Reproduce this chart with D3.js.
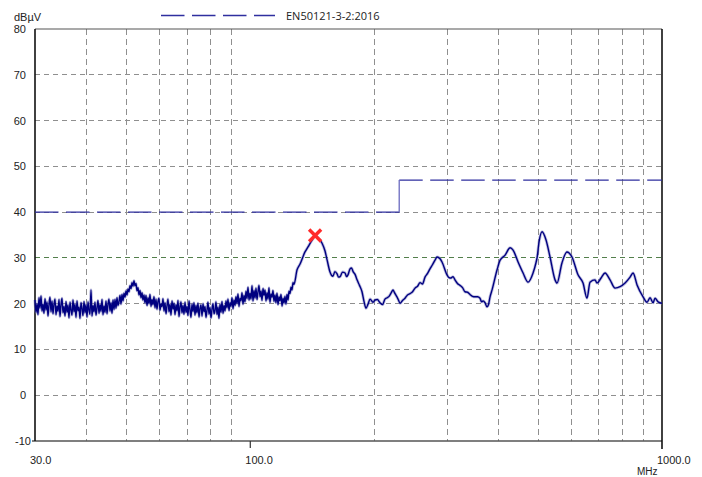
<!DOCTYPE html>
<html>
<head>
<meta charset="utf-8">
<script src="https://cdn.jsdelivr.net/npm/d3@7"></script>
<style>
  html, body { margin: 0; padding: 0; background: #ffffff; }
  svg { display: block; }
</style>
</head>
<body>
<svg id="chart" width="702" height="477"></svg>
<script>
// ---------------- data ----------------
const freqDomain = [30, 1000];            // MHz
const levelDomain = [-10, 80];            // dBµV
const yTicks = [-10, 0, 10, 20, 30, 40, 50, 60, 70, 80];
const xTickLabels = [{ f: 30, t: "30.0" }, { f: 100, t: "100.0" }, { f: 1000, t: "1000.0" }];
const xGridFreqs = [40, 50, 60, 70, 80, 90, 200, 300, 400, 500, 600, 700, 800, 900];
const yUnit = "dBµV";
const xUnit = "MHz";
const limitName = "EN50121-3-2:2016";
// limit: 40 dBµV from 30 to 230 MHz, 47 dBµV from 230 to 1000 MHz
const limitSegments = [[[30, 40], [230, 40]], [[230, 47], [1000, 47]]];
const limitStepFreq = 230;

// Low band sweep (noisy part): log-spaced sweep points 30 .. 127.7 MHz
const lowSweepStart = 30, lowSweepStop = 127.7;
const lowSweepLevels = [
  20.8,18.1,20.0,17.6,21.3,19.0,21.7,18.4,19.9,17.9,
  21.1,18.6,20.4,17.3,19.8,21.4,18.2,20.6,17.8,19.9,
  21.0,17.6,19.5,18.3,20.9,17.2,19.8,21.2,18.0,19.4,
  17.3,20.5,18.1,19.7,16.9,20.3,18.6,17.5,20.8,18.2,
  19.9,17.0,20.6,18.4,19.3,16.8,20.2,18.9,17.4,20.5,
  18.0,19.8,17.1,20.4,18.6,17.7,23.0,17.3,19.6,18.2,
  20.3,17.5,19.1,20.7,17.9,19.8,18.3,20.9,17.6,19.5,
  18.1,20.6,17.8,19.9,21.0,18.4,20.2,17.9,20.8,18.7,
  20.9,19.0,21.3,19.6,20.4,21.8,19.9,22.0,20.6,22.3,
  21.4,22.8,21.9,23.2,22.6,23.9,23.3,24.6,23.8,25.0,
  23.9,24.4,22.8,23.5,21.9,22.9,21.3,22.4,20.8,21.9,
  20.2,21.8,19.6,21.3,20.0,22.0,19.4,20.9,19.8,21.5,
  19.1,21.0,18.8,20.5,21.2,18.6,20.0,19.3,21.1,18.4,
  20.2,17.8,19.6,21.0,18.2,19.9,17.5,20.6,18.8,20.1,
  17.6,19.8,18.4,20.7,17.2,19.3,20.4,18.0,19.6,17.7,
  20.3,18.1,19.4,17.4,20.6,18.7,17.0,19.9,18.3,20.2,
  17.5,19.6,18.0,20.1,17.1,18.9,19.7,17.3,20.0,18.2,
  19.4,17.0,18.6,20.3,17.7,19.2,16.9,18.8,20.0,17.8,
  18.5,20.4,17.6,19.3,16.8,19.9,18.1,20.5,17.9,19.6,
  18.4,20.6,19.1,21.0,18.5,20.2,19.4,21.3,18.9,20.8,
  19.6,21.5,20.0,22.1,19.4,21.2,20.6,22.4,19.9,21.8,
  20.4,22.7,21.1,23.6,20.8,22.3,21.0,23.9,20.6,22.9,
  21.2,23.4,20.9,22.6,24.0,21.5,22.8,20.7,23.3,21.8,
  23.0,20.6,22.4,21.0,23.5,20.3,22.1,21.4,22.9,20.5,
  21.9,20.2,22.3,19.8,21.5,20.6,22.0,19.5,21.2,20.1,
  21.6,19.9,22.0,20.8,22.7,22.2,23.6,23.0,24.6,24.2
];

// Upper band readings
const highFreqs = [
  129.9,132.0,135.8,138.1,141.3,143.7,146.1,149.4,151.9,153.7,
  156.2,157.5,158.8,160.5,162.5,163.8,165.2,167.5,169.9,171.3,
  172.7,174.7,176.2,177.7,179.7,181.7,184.2,186.8,188.9,191.0,
  193.2,195.4,198.7,200.9,203.5,206.6,209.5,212.4,215.0,217.3,
  219.7,222.2,224.0,226.0,228.5,231.1,234.3,237.6,241.0,244.4,
  247.8,251.3,254.8,258.4,262.0,265.7,269.5,273.2,277.0,281.0,
  284.2,289.0,292.2,300.5,303.9,307.3,310.7,314.2,318.6,323.1,
  327.7,332.3,336.9,341.7,346.5,351.5,356.4,361.4,364.5,367.6,
  371.7,375.9,379.0,382.3,386.6,397.6,404.4,415.8,427.6,434.8,
  447.1,459.8,472.8,486.2,494.4,497.2,502.8,511.3,522.8,534.6,
  549.8,555.9,571.5,587.7,604.4,625.2,643.0,657.5,668.6,687.6,
  695.3,711.2,727.1,747.8,769.0,790.9,813.4,836.5,850.6,869.8,
  899.5,919.6,935.3,951.2,961.9,978.4,1000
];
const highLevels = [
  27.4,28.6,31.3,32.4,33.9,34.8,34.4,33.2,31.5,29.5,
  26.9,26.2,26.0,27.0,26.5,25.8,25.9,26.9,26.7,25.9,
  26.3,27.6,27.8,27.0,26.4,25.2,24.0,22.6,20.5,19.0,
  19.9,21.0,20.3,20.8,20.9,20.2,19.8,21.0,21.3,21.6,
  22.3,23.0,22.4,21.8,21.0,20.1,20.7,21.2,21.9,22.2,
  22.6,23.4,23.8,24.6,24.3,25.8,26.6,27.6,28.5,29.5,
  30.2,29.8,29.1,26.3,25.7,25.6,25.9,25.2,24.4,24.0,
  23.5,22.6,22.5,22.0,21.6,21.5,21.5,21.2,20.4,20.6,
  20.2,19.3,19.8,21.5,23.0,27.4,29.5,30.6,32.2,31.7,
  29.1,26.7,24.7,26.7,29.0,30.0,33.5,35.7,33.9,30.2,
  25.2,24.5,28.9,31.3,30.2,26.3,24.5,21.2,24.7,25.2,
  24.5,25.6,26.7,25.2,23.4,23.7,24.5,25.8,26.7,24.1,
  21.5,20.3,21.3,20.2,21.2,20.4,20.1
];

// Peak marker
const markerFreq = 143.7, markerLevel = 34.9;

// ---------------- drawing ----------------
const L = 35, R = 662, T = 29, B = 441;
const svg = d3.select("#chart");

const x = d3.scaleLog().domain(freqDomain).range([L, R]);
const y = d3.scaleLinear().domain(levelDomain).range([B, T]);

const axisFont = "'Liberation Sans', Arial, sans-serif";
const gridColor = "#8f8f8f";

// horizontal grid
svg.append("g").selectAll("line")
  .data(yTicks.filter(v => v > levelDomain[0] && v < levelDomain[1]))
  .join("line")
  .attr("x1", L).attr("x2", R)
  .attr("y1", d => y(d)).attr("y2", d => y(d))
  .attr("stroke", gridColor).attr("stroke-width", 1)
  .attr("stroke-dasharray", "5,4")
  .attr("shape-rendering", "crispEdges");

// green dashed reference at 30
svg.append("line")
  .attr("x1", L).attr("x2", R)
  .attr("y1", y(30)).attr("y2", y(30))
  .attr("stroke", "#3f7a35").attr("stroke-width", 1)
  .attr("stroke-dasharray", "5,4").attr("opacity", 0.75)
  .attr("shape-rendering", "crispEdges");

// vertical grid
svg.append("g").selectAll("line")
  .data(xGridFreqs)
  .join("line")
  .attr("x1", d => Math.round(x(d)) + 0.5).attr("x2", d => Math.round(x(d)) + 0.5)
  .attr("y1", T).attr("y2", B)
  .attr("stroke", gridColor).attr("stroke-width", 1)
  .attr("stroke-dasharray", "6,4");

// frame
svg.append("line").attr("x1", L).attr("x2", R).attr("y1", T).attr("y2", T)
  .attr("stroke", "#555").attr("stroke-width", 1.2);
svg.append("line").attr("x1", L - 3).attr("x2", R).attr("y1", B).attr("y2", B)
  .attr("stroke", "#555").attr("stroke-width", 1.4);
svg.append("line").attr("x1", L).attr("x2", L).attr("y1", T).attr("y2", B)
  .attr("stroke", "#111").attr("stroke-width", 1.6);
svg.append("line").attr("x1", R).attr("x2", R).attr("y1", T).attr("y2", B + 8)
  .attr("stroke", "#111").attr("stroke-width", 1.6);
svg.append("line").attr("x1", x(100)).attr("x2", x(100)).attr("y1", B).attr("y2", B + 7)
  .attr("stroke", "#333").attr("stroke-width", 1.2);

// y labels
svg.append("g").selectAll("text")
  .data(yTicks)
  .join("text")
  .attr("x", d => d === -10 ? 31 : 26)
  .attr("y", d => y(d))
  .attr("dy", "0.36em")
  .attr("text-anchor", "end")
  .attr("font-family", axisFont).attr("font-size", 11).attr("fill", "#222")
  .text(d => d);

svg.append("text").attr("x", 14).attr("y", 21)
  .attr("font-family", axisFont).attr("font-size", 11).attr("fill", "#222")
  .text(yUnit);

// x labels
svg.append("g").selectAll("text")
  .data(xTickLabels)
  .join("text")
  .attr("x", d => x(d.f) - 5)
  .attr("y", 464)
  .attr("font-family", axisFont).attr("font-size", 11).attr("fill", "#222")
  .text(d => d.t);
svg.append("text").attr("x", 637).attr("y", 475)
  .attr("font-family", axisFont).attr("font-size", 10).attr("fill", "#222")
  .text(xUnit);

// limit line
const limitColor = "#2f2f9f";
const limitLine = d3.line().x(d => x(d[0])).y(d => y(d[1]));
svg.append("g").selectAll("path")
  .data(limitSegments)
  .join("path")
  .attr("d", limitLine)
  .attr("fill", "none")
  .attr("stroke", limitColor).attr("stroke-width", 1.3)
  .attr("stroke-dasharray", "23.5,7.5");
svg.append("line")
  .attr("x1", x(limitStepFreq)).attr("x2", x(limitStepFreq))
  .attr("y1", y(limitSegments[0][1][1])).attr("y2", y(limitSegments[1][0][1]))
  .attr("stroke", "#6b6bbf").attr("stroke-width", 1.3);

// legend
svg.append("line").attr("x1", 161).attr("x2", 275).attr("y1", 15.5).attr("y2", 15.5)
  .attr("stroke", limitColor).attr("stroke-width", 1.3)
  .attr("stroke-dasharray", "23.5,7.5");
svg.append("text").attr("x", 286).attr("y", 20)
  .attr("font-family", "'Open Sans', sans-serif").attr("font-size", 11).attr("fill", "#222")
  .text(limitName);

// trace
const n = lowSweepLevels.length;
const lowPts = lowSweepLevels.map((v, i) => [lowSweepStart * Math.pow(lowSweepStop / lowSweepStart, i / (n - 1)), v]);
const highPts = highFreqs.map((f, i) => [f, highLevels[i]]);
const trace = lowPts.concat(highPts);

const traceLine = d3.line().x(d => x(d[0])).y(d => y(d[1])).curve(d3.curveMonotoneX);
svg.append("path")
  .datum(trace)
  .attr("d", traceLine)
  .attr("fill", "none")
  .attr("stroke", "#7d7dc0").attr("stroke-width", 3).attr("opacity", 0.5);
svg.append("path")
  .datum(trace)
  .attr("d", traceLine)
  .attr("fill", "none")
  .attr("stroke", "#000080").attr("stroke-width", 1.4);

// marker
const mx = x(markerFreq), my = y(markerLevel), ms = 6;
const mk = svg.append("g").attr("stroke", "#ff2a2a").attr("stroke-width", 3.4).attr("stroke-linecap", "butt");
mk.append("line").attr("x1", mx - ms).attr("y1", my - ms).attr("x2", mx + ms).attr("y2", my + ms);
mk.append("line").attr("x1", mx - ms).attr("y1", my + ms).attr("x2", mx + ms).attr("y2", my - ms);
</script>
</body>
</html>
